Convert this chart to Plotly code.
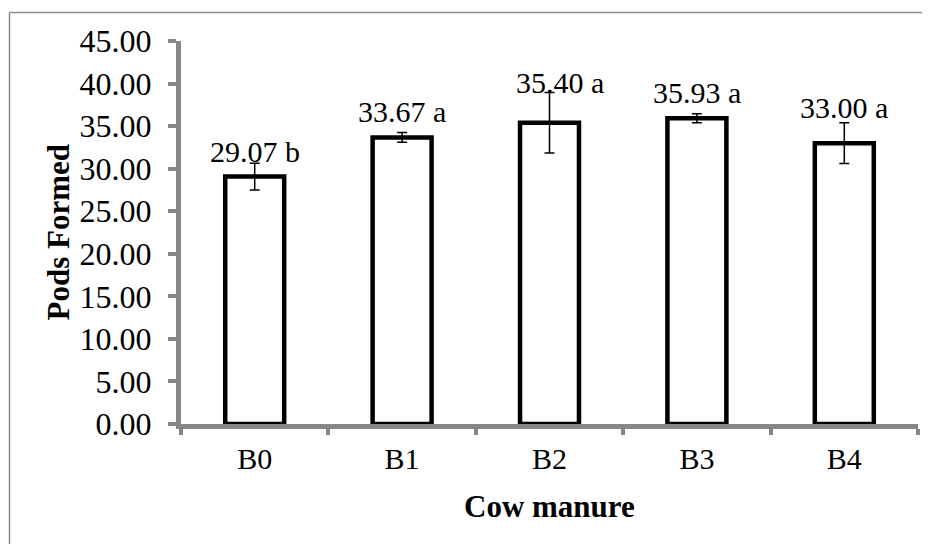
import plotly.graph_objects as go

categories = ["B0", "B1", "B2", "B3", "B4"]
values = [29.07, 33.67, 35.40, 35.93, 33.00]
errors = [1.58, 0.58, 3.56, 0.53, 2.40]
letters = ["b", "a", "a", "a", "a"]
y_ticks = [0, 5, 10, 15, 20, 25, 30, 35, 40, 45]

# label placement offsets (px) as in reference
label_dy = [25, 26, 40, 26, 36]
label_dx = [0, 0, 10, 0, 0]

FONT = "Liberation Serif, Times New Roman, serif"
AX = "#878787"

fig = go.Figure()
fig.add_trace(go.Bar(
    x=categories, y=values, width=0.4,
    marker=dict(color="white", line=dict(color="black", width=4.5)),
    error_y=dict(type="data", array=errors, visible=True,
                 color="black", thickness=1.5, width=5),
    hoverinfo="skip",
))

for c, v, l, dy, dx in zip(categories, values, letters, label_dy, label_dx):
    fig.add_annotation(x=c, y=v, text=f"{v:.2f} {l}", showarrow=False,
                       yshift=dy, xshift=dx, yanchor="middle",
                       font=dict(family=FONT, size=30, color="black"))

W, H = 930, 544
L, R, T, B = 173, 20, 33, 128
pw, ph = W - L - R, H - T - B

fig.add_annotation(xref="paper", yref="paper", x=0.5, y=0, yshift=-82,
                   text="<b>Cow manure</b>", showarrow=False, yanchor="middle",
                   font=dict(family=FONT, size=31, color="black"))
fig.add_annotation(xref="paper", yref="paper", x=0, y=0.5, xshift=-123,
                   text="<b>Pods Formed</b>", showarrow=False, textangle=-90,
                   xanchor="center", yanchor="middle",
                   font=dict(family=FONT, size=31, color="black"))

# outer chart border (cropped at right/bottom)
x_left = (1.5 - L) / pw
y_top = 1 + (T - 4.5) / ph
fig.add_shape(type="line", xref="paper", yref="paper", x0=x_left, x1=x_left,
              y0=y_top, y1=-B / ph - 0.1, line=dict(color="#8c8c8c", width=1.5))
fig.add_shape(type="line", xref="paper", yref="paper", x0=x_left, x1=1 + R / pw + 0.1,
              y0=y_top, y1=y_top, line=dict(color="#8c8c8c", width=1.5))

fig.update_layout(
    width=W, height=H,
    margin=dict(l=L, r=R, t=T, b=B),
    paper_bgcolor="white", plot_bgcolor="white",
    showlegend=False,
    font=dict(family=FONT, size=30, color="black"),
    xaxis=dict(range=[-0.5, 4.5], showline=True, linecolor=AX, linewidth=5,
               ticks="outside", tickson="boundaries", ticklen=6, tickwidth=4,
               tickcolor=AX, showgrid=False, zeroline=False,
               ticklabelstandoff=4,
               tickfont=dict(family=FONT, size=30, color="black")),
    yaxis=dict(range=[0, 45], tickvals=y_ticks, tickformat=".2f",
               showline=True, linecolor=AX, linewidth=5,
               ticks="outside", ticklen=8, tickwidth=4, tickcolor=AX,
               showgrid=False, zeroline=False, ticklabelstandoff=10,
               tickfont=dict(family=FONT, size=32, color="black")),
)

fig.write_html("out.html")
